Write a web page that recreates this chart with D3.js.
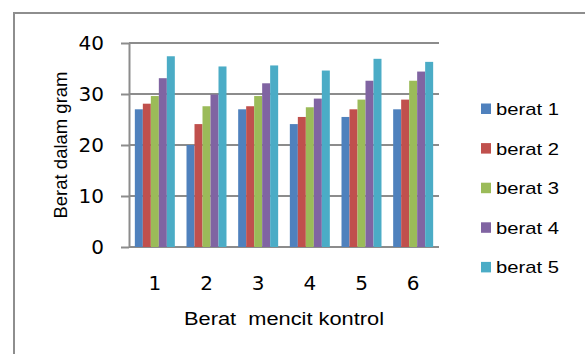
<!DOCTYPE html>
<html lang="en">
<head>
<meta charset="utf-8">
<script src="https://d3js.org/d3.v7.min.js"></script>
<style>
    body { margin: 0; background: #fff; }
    svg { display: block; }
</style>
</head>
<body>
<div id="chart"></div>
<script>

    // Data
    const categories = ["1", "2", "3", "4", "5", "6"];
    const seriesNames = ["berat 1", "berat 2", "berat 3", "berat 4", "berat 5"];
    const berat1 = [27.0, 20.0, 27.0, 24.1, 25.5, 27.0];
    const berat2 = [28.1, 24.1, 27.6, 25.5, 27.0, 28.9];
    const berat3 = [29.6, 27.6, 29.6, 27.4, 28.9, 32.6];
    const berat4 = [33.1, 29.9, 32.1, 29.1, 32.6, 34.4];
    const berat5 = [37.4, 35.4, 35.6, 34.6, 36.9, 36.3];
    const yTicks = [0, 10, 20, 30, 40];

    const seriesValues = [berat1, berat2, berat3, berat4, berat5];
    const colours = ["#4F81BD", "#C0504D", "#9BBB59", "#8064A2", "#4BACC6"];

    const width = 585, height = 354;
    const plot = {left: 129, right: 439, top: 43, bottom: 247};

    const svg = d3.select("#chart")
        .append("svg")
        .attr("width", width)
        .attr("height", height);

    // outer chart frame (runs off the picture to the right and bottom)
    svg.append("rect")
        .attr("x", 14)
        .attr("y", 13)
        .attr("width", 700)
        .attr("height", 500)
        .attr("fill", "none")
        .attr("stroke", "#8e8e8e")
        .attr("stroke-width", 2);

    // scales
    const x = d3.scaleBand()
        .domain(categories)
        .range([plot.left, plot.right])
        .paddingInner(0.226)
        .paddingOuter(0.113);

    const x1 = d3.scaleBand()
        .domain(seriesNames)
        .range([0, x.bandwidth()]);

    const y = d3.scaleLinear()
        .domain([0, 40])
        .range([plot.bottom, plot.top]);

    // gridlines
    svg.append("g")
        .selectAll("line")
        .data(yTicks)
        .join("line")
        .attr("x1", plot.left)
        .attr("x2", plot.right)
        .attr("y1", d => y(d))
        .attr("y2", d => y(d))
        .attr("stroke", "#8c8c8c")
        .attr("stroke-width", 2);

    // bars
    const rows = categories.map((c, i) => ({
        cat: c,
        vals: seriesNames.map((s, j) => ({name: s, value: seriesValues[j][i], colour: colours[j]}))
    }));

    svg.append("g")
        .selectAll("g")
        .data(rows)
        .join("g")
        .attr("transform", d => "translate(" + x(d.cat) + ",0)")
        .selectAll("rect")
        .data(d => d.vals)
        .join("rect")
        .attr("x", d => x1(d.name))
        .attr("y", d => y(d.value))
        .attr("width", x1.bandwidth())
        .attr("height", d => y(0) - y(d.value))
        .attr("fill", d => d.colour);

    // y axis
    const yAxis = svg.append("g")
        .attr("transform", "translate(" + plot.left + ",0)")
        .call(d3.axisLeft(y).tickValues(yTicks).tickSize(8).tickSizeOuter(0).tickPadding(17));
    yAxis.selectAll("path, line").attr("stroke", "#8c8c8c").attr("stroke-width", 2);
    yAxis.selectAll("text")
        .attr("fill", "#000")
        .style("font-family", "'DejaVu Sans', sans-serif")
        .style("font-size", "20px");

    // x axis (labels only)
    const xAxis = svg.append("g")
        .attr("transform", "translate(0," + plot.bottom + ")")
        .call(d3.axisBottom(x).tickSize(0).tickPadding(28));
    xAxis.select(".domain").remove();
    xAxis.selectAll("text")
        .attr("dy", 0)
        .attr("y", 43)
        .attr("fill", "#000")
        .style("font-family", "'DejaVu Sans', sans-serif")
        .style("font-size", "20px");

    // axis titles
    svg.append("text")
        .attr("transform", "translate(284,325) scale(1.18,1)")
        .attr("text-anchor", "middle")
        .style("white-space", "pre")
        .style("font-family", "'Liberation Sans', Arial, sans-serif")
        .style("font-size", "18.5px")
        .text("Berat  mencit kontrol");

    svg.append("text")
        .attr("transform", "translate(66.5,145) rotate(-90)")
        .attr("text-anchor", "middle")
        .style("font-family", "'Liberation Sans', Arial, sans-serif")
        .style("font-size", "18.5px")
        .text("Berat dalam gram");

    // legend
    const legend = svg.append("g")
        .selectAll("g")
        .data(seriesNames)
        .join("g")
        .attr("transform", (d, i) => "translate(481," + (103.5 + i * 39.6) + ")");

    legend.append("rect")
        .attr("width", 10)
        .attr("height", 10.5)
        .attr("fill", (d, i) => colours[i]);

    legend.append("text")
        .attr("transform", "translate(15,11.5) scale(1.19,1)")
        .style("font-family", "'Liberation Sans', Arial, sans-serif")
        .style("font-size", "17px")
        .text(d => d);

</script>
</body>
</html>
